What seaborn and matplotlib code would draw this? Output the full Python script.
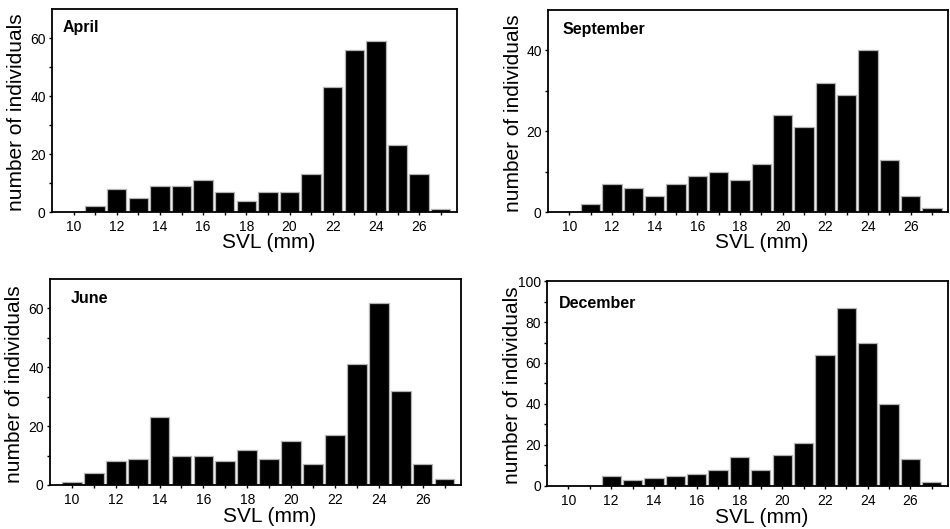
import numpy as np
import pandas as pd
import matplotlib
matplotlib.use("Agg")
import matplotlib.pyplot as plt
import seaborn as sns

# SVL size classes (mm) and counts per month
svl = list(range(10, 28))
april = [0, 2, 8, 5, 9, 9, 11, 7, 4, 7, 7, 13, 43, 56, 59, 23, 13, 1]
september = [0, 2, 7, 6, 4, 7, 9, 10, 8, 12, 24, 21, 32, 29, 40, 13, 4, 1]
june = [1, 4, 8, 9, 23, 10, 10, 8, 12, 9, 15, 7, 17, 41, 62, 32, 7, 2]
december = [0, 0, 5, 3, 4, 5, 6, 8, 14, 8, 15, 21, 64, 87, 70, 40, 13, 2]

months = ["April", "September", "June", "December"]
counts = [april, september, june, december]
ymax = [70, 50, 70, 100]
ystep = [20, 20, 20, 20]

sns.set_style("ticks")
plt.rcParams["font.family"] = ["Liberation Sans", "DejaVu Sans"]
plt.rcParams["text.color"] = "black"
plt.rcParams["axes.labelcolor"] = "black"
plt.rcParams["xtick.color"] = "black"
plt.rcParams["ytick.color"] = "black"

fig = plt.figure(figsize=(9.5, 5.29), dpi=100)

# axes boxes in figure fraction (left, bottom, width, height)
boxes = [
    [0.0547, 0.599, 0.4263, 0.3837],
    [0.5768, 0.599, 0.4210, 0.3820],
    [0.0526, 0.0832, 0.4326, 0.3894],
    [0.5758, 0.0813, 0.4220, 0.3875],
]
title_pos = [(0.027, 0.945), (0.037, 0.942), (0.051, 0.943), (0.030, 0.928)]

for i, month in enumerate(months):
    ax = fig.add_axes(boxes[i])
    df = pd.DataFrame({"svl": svl, "n": counts[i]})
    sns.barplot(data=df, x="svl", y="n", native_scale=True, color="black",
                saturation=1, width=0.9, edgecolor="#b4b4b4", linewidth=0.9,
                ax=ax)

    ax.set_xlim(9.0, 27.75)
    ax.set_ylim(0, ymax[i])
    ax.set_xticks(range(10, 28, 2))
    ax.set_xticks(range(11, 28, 2), minor=True)
    ax.set_yticks(np.arange(0, ymax[i] + 1, ystep[i]))
    ax.set_yticks(np.arange(10, ymax[i], 20), minor=True)
    ax.tick_params(axis="both", which="both", direction="out", length=2.5,
                   width=1, color="black", labelsize=10)
    ax.tick_params(axis="y", pad=2)
    ax.tick_params(axis="x", pad=3)

    for sp in ax.spines.values():
        sp.set_visible(True)
        sp.set_linewidth(1.3)
        sp.set_color("black")

    ax.set_xlabel("SVL (mm)", fontsize=15)
    ax.set_ylabel("number of individuals", fontsize=15)
    ax.xaxis.set_label_coords(0.535, -0.105)
    ax.yaxis.set_label_coords(-0.063, 0.49)

    ax.text(title_pos[i][0], title_pos[i][1], month, transform=ax.transAxes,
            fontsize=11.5, fontweight="bold", ha="left", va="top")

fig.savefig("out.png", dpi=100)
